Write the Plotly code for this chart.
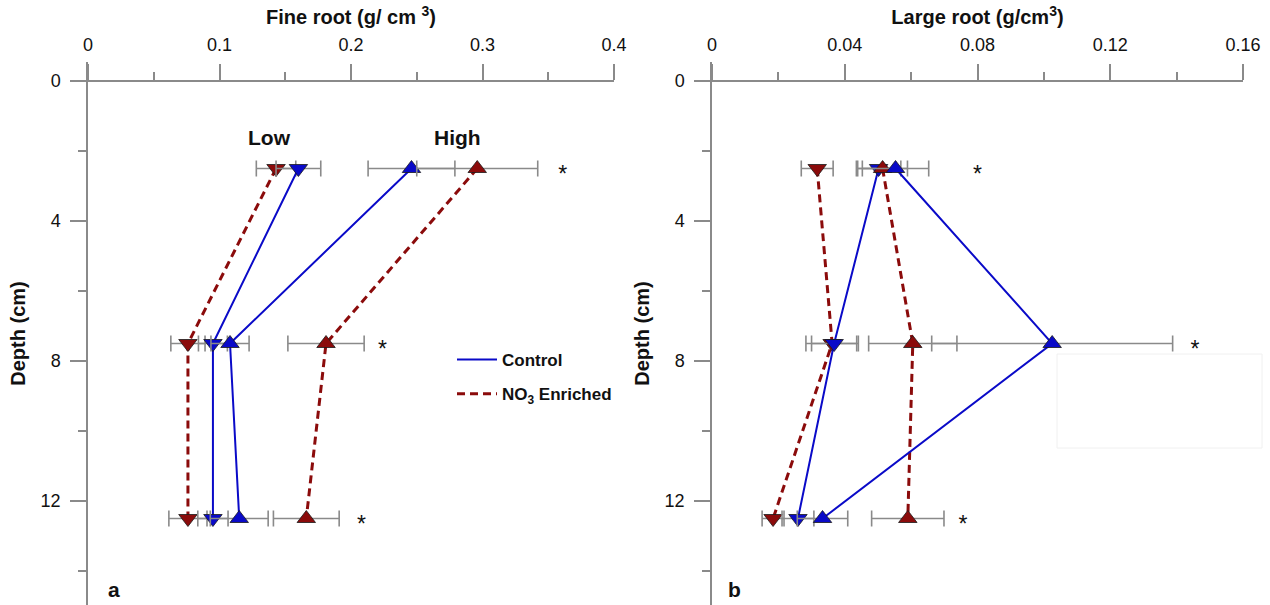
import plotly.graph_objects as go

# Sampling depths (cm)
depth = [2.5, 7.5, 12.5]

# Fine root density (g/cm3): means and standard errors
fine_ctrl_low = [0.160, 0.095, 0.095]
fine_ctrl_low_err = [0.017, 0.011, 0.0115]
fine_no3_low = [0.143, 0.076, 0.076]
fine_no3_low_err = [0.015, 0.013, 0.0145]
fine_ctrl_high = [0.246, 0.108, 0.115]
fine_ctrl_high_err = [0.033, 0.0145, 0.022]
fine_no3_high = [0.296, 0.181, 0.166]
fine_no3_high_err = [0.046, 0.029, 0.025]

# Large root density (g/cm3): means and standard errors
large_ctrl_low = [0.0502, 0.0368, 0.0259]
large_ctrl_low_err = [0.0067, 0.0068, 0.0048]
large_no3_low = [0.0317, 0.0362, 0.0184]
large_no3_low_err = [0.0048, 0.0079, 0.0033]
large_ctrl_high = [0.0553, 0.1025, 0.0333]
large_ctrl_high_err = [0.0100, 0.0363, 0.0076]
large_no3_high = [0.0514, 0.0605, 0.0590]
large_no3_high_err = [0.0075, 0.0133, 0.0109]

# Significance markers (x placement per depth)
fine_star_x = [0.361, 0.224, 0.208]
large_star_x = [0.080, 0.1455, 0.0756]

depth_ticks = [0, 4, 8, 12]
fine_ticks = [0, 0.1, 0.2, 0.3, 0.4]
large_ticks = [0, 0.04, 0.08, 0.12, 0.16]

BLUE = "#0a0ac8"
RED = "#8b0b0b"
GREY = "#8a8a8a"
FONT = "Liberation Sans, Arial, sans-serif"

W, H = 1270, 605
L, R, T, B = 88, 27, 62, 0
plot_w = W - L - R
plot_h = H - T - B
px_per_cm = 35.0
y_top = -(81 - T) / px_per_cm
y_bot = (H - B - 81) / px_per_cm
xaxis_pos = (H - 81 - B) / plot_h


def px_x(px):
    return (px - L) / plot_w


def px_y(py):
    return (H - B - py) / plot_h


fig = go.Figure()


def add_series(xa, ya, vals, errs, color, symbol, dashed):
    fig.add_trace(go.Scatter(
        x=vals, y=depth, xaxis=xa, yaxis=ya,
        mode="lines+markers",
        line=dict(color=color, width=3 if dashed else 2,
                  dash="8px,5px" if dashed else "solid"),
        marker=dict(symbol=symbol, size=16, color=color,
                    line=dict(color="#1a1a1a", width=0.8)),
        error_x=dict(type="data", array=errs, visible=True,
                     color=GREY, thickness=1.6, width=8),
        showlegend=False, hoverinfo="x+y",
    ))


# Panel a: fine roots
add_series("x", "y", fine_no3_low, fine_no3_low_err, RED, "triangle-down", True)
add_series("x", "y", fine_ctrl_low, fine_ctrl_low_err, BLUE, "triangle-down", False)
add_series("x", "y", fine_ctrl_high, fine_ctrl_high_err, BLUE, "triangle-up", False)
add_series("x", "y", fine_no3_high, fine_no3_high_err, RED, "triangle-up", True)

# Panel b: large roots
add_series("x2", "y2", large_no3_low, large_no3_low_err, RED, "triangle-down", True)
add_series("x2", "y2", large_ctrl_low, large_ctrl_low_err, BLUE, "triangle-down", False)
add_series("x2", "y2", large_no3_high, large_no3_high_err, RED, "triangle-up", True)
add_series("x2", "y2", large_ctrl_high, large_ctrl_high_err, BLUE, "triangle-up", False)

# Significance asterisks beside each depth's error bars
for xs, xa, ya in [(fine_star_x, "x", "y"), (large_star_x, "x2", "y2")]:
    fig.add_trace(go.Scatter(
        x=xs, y=[d + 0.23 for d in depth], xaxis=xa, yaxis=ya,
        mode="text", text=["*"] * len(xs), textposition="middle center",
        textfont=dict(family=FONT, size=23, color="#111"),
        showlegend=False, hoverinfo="skip",
    ))

# Legend entries (line style only)
fig.add_trace(go.Scatter(x=[None], y=[None], mode="lines", name="Control",
                         legendgroup="ctrl",
                         line=dict(color=BLUE, width=2)))
fig.add_trace(go.Scatter(x=[None], y=[None], mode="lines",
                         name="NO<sub>3</sub> Enriched", legendgroup="no3",
                         line=dict(color=RED, width=3, dash="8px,5px")))

tick_font = dict(family=FONT, size=18, color="#111")
title_font = dict(family=FONT, size=20, color="#111", weight="bold")


def xaxis_cfg(domain, ticks, minor_dtick, title):
    return dict(
        domain=domain, range=[ticks[0], ticks[-1]], side="top",
        anchor="free", position=xaxis_pos,
        tickvals=ticks, ticktext=[f"{t:g}" for t in ticks],
        ticks="outside", ticklen=16, tickwidth=1.5, tickcolor=GREY,
        minor=dict(dtick=minor_dtick, tick0=0, ticks="outside", ticklen=8,
                   tickwidth=1.5, tickcolor=GREY),
        showline=True, linecolor=GREY, linewidth=1.5,
        showgrid=False, zeroline=False, tickfont=tick_font,
        ticklabelstandoff=6,
        title=dict(text=title, font=title_font, standoff=4),
    )


def yaxis_cfg(anchor):
    return dict(
        domain=[0, 1], range=[y_bot, y_top], anchor=anchor,
        tickvals=depth_ticks, ticks="outside", ticklen=16, tickwidth=1.5,
        tickcolor=GREY,
        minor=dict(dtick=2, tick0=0, ticks="outside", ticklen=8,
                   tickwidth=1.5, tickcolor=GREY),
        showline=True, linecolor=GREY, linewidth=1.5,
        showgrid=False, zeroline=False, tickfont=tick_font,
        ticklabelstandoff=6,
        title=dict(text="Depth (cm)", font=title_font, standoff=10),
    )


fig.update_layout(
    width=W, height=H,
    margin=dict(l=L, r=R, t=T, b=B),
    paper_bgcolor="white", plot_bgcolor="white",
    font=dict(family=FONT, color="#111"),
    xaxis=xaxis_cfg([0, px_x(614)], fine_ticks, 0.05,
                    "Fine root (g/ cm <sup>3</sup>)"),
    xaxis2=xaxis_cfg([px_x(712), 1.0], large_ticks, 0.02,
                     "Large root (g/cm<sup>3</sup>)"),
    yaxis=yaxis_cfg("x"),
    yaxis2=yaxis_cfg("x2"),
    legend=dict(x=px_x(452), y=px_y(342), xanchor="left", yanchor="top",
                bgcolor="rgba(0,0,0,0)", itemwidth=40,
                font=dict(family=FONT, size=17, color="#111", weight="bold"),
                tracegroupgap=9),
    showlegend=True,
)

label_font = dict(family=FONT, size=21, color="#111", weight="bold")
fig.update_layout(annotations=[
    dict(x=0.138, y=1.6, xref="x", yref="y", text="Low", showarrow=False,
         xanchor="center", yanchor="middle", font=label_font),
    dict(x=0.281, y=1.6, xref="x", yref="y", text="High", showarrow=False,
         xanchor="center", yanchor="middle", font=label_font),
    dict(x=px_x(114), y=px_y(589), xref="paper", yref="paper", text="a",
         showarrow=False, xanchor="center", yanchor="middle",
         font=label_font),
    dict(x=px_x(734), y=px_y(589), xref="paper", yref="paper", text="b",
         showarrow=False, xanchor="center", yanchor="middle",
         font=label_font),
])

# Faint blank panel overlapping the right plot
fig.add_shape(type="rect", xref="paper", yref="paper",
              x0=px_x(1057), x1=px_x(1262), y0=px_y(448), y1=px_y(354),
              fillcolor="white", line=dict(color="#f0f0f0", width=1),
              layer="above")

fig.write_html("out.html")
